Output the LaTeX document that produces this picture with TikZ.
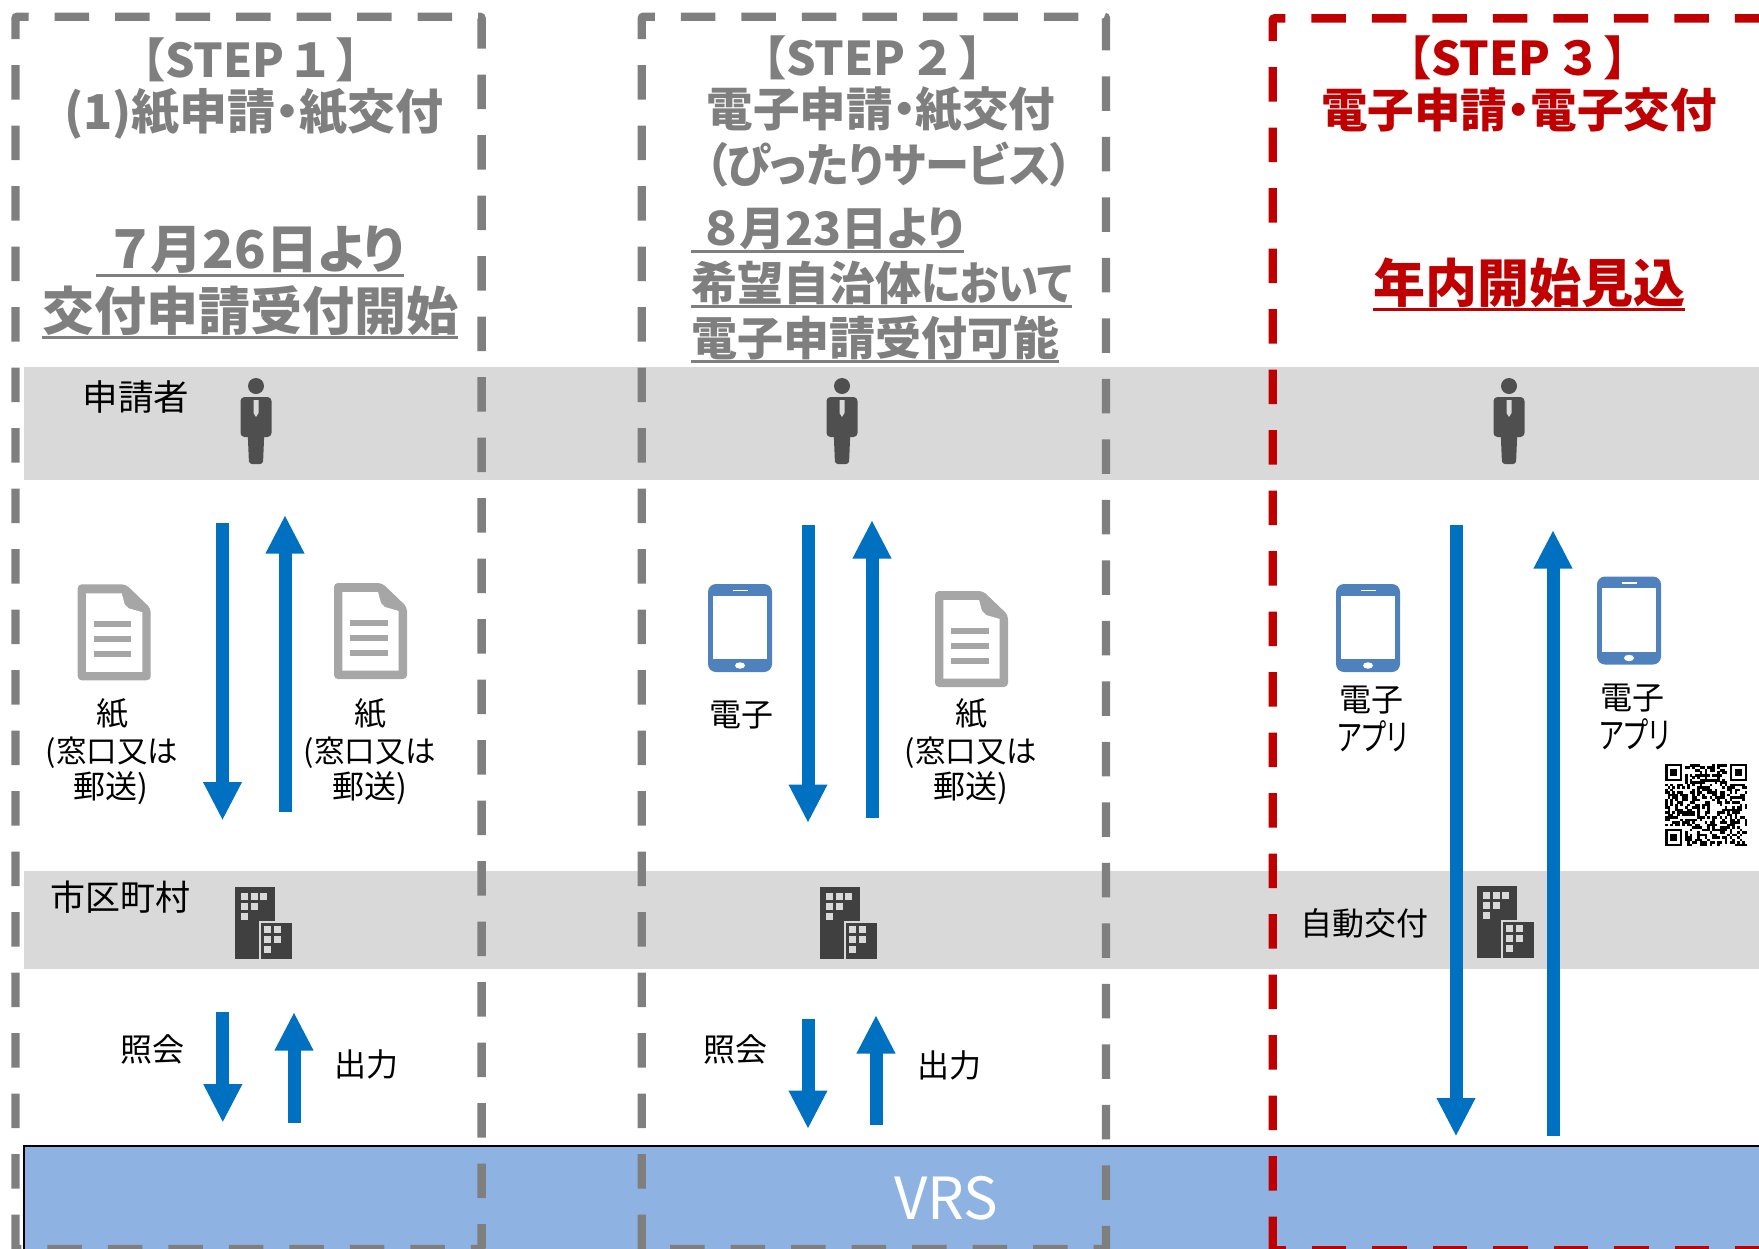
\documentclass[tikz,border=0pt]{standalone}
\usepackage{fontspec}
\setmainfont[RawFeature=+palt]{Noto Sans CJK JP}
\usepackage{xcolor}
\usetikzlibrary{arrows.meta}

\definecolor{dashgray}{HTML}{7F7F7F}
\definecolor{dashred}{HTML}{C00000}
\definecolor{bandgray}{HTML}{D9D9D9}
\definecolor{vrsblue}{HTML}{8EB2E2}
\definecolor{arrowblue}{HTML}{0070C0}
\definecolor{tabletblue}{HTML}{4F81BD}
\definecolor{docgray}{HTML}{A6A6A6}
\definecolor{darkicon}{HTML}{404040}

% underlined text, the rule is as wide as the text
\newcommand{\ulbox}[1]{\setbox0\hbox{#1}\rlap{\rule[-.165em]{\wd0}{2.6pt}}\box0}
\newcommand{\jpsize}[1]{\fontsize{#1}{#1}\selectfont}
% narrow kana
\newcommand{\slim}[2]{\scalebox{#1}[1]{#2}}

\tikzset{
  stepbox/.style={line width=8.4pt, dash pattern=on 34.5pt off 26pt, rounded corners=2pt},
  band/.style={fill=bandgray},
  flow/.style={line width=13pt, arrowblue, -{Triangle[width=36pt,length=38.5pt]}},
  grayhead/.style={anchor=base, text=dashgray, font=\bfseries\jpsize{46.5}, inner sep=0},
  redhead/.style={anchor=base, text=dashred, font=\bfseries\jpsize{46.5}, inner sep=0},
  graydate/.style={anchor=base, text=dashgray, font=\bfseries\jpsize{52}, inner sep=0},
  label/.style={anchor=base, font=\jpsize{32}, inner sep=0},
  person/.pic={
    \fill [darkicon!92!white] (0,8) circle (8);
    \fill [darkicon!92!white, rounded corners=4pt] (-15.5,19) rectangle (15.5,59);
    \fill [darkicon!92!white, rounded corners=3pt] (-8.5,50) -- (8.5,50) -- (7,86) -- (-7,86) -- cycle;
    \fill [bandgray] (-2.5,22) -- (2.5,22) -- (2.5,35) -- (0,39) -- (-2.5,35) -- cycle;
  },
  building/.pic={
    \fill [darkicon] (0,0) rectangle (39.5,72);
    \fill [darkicon, draw=bandgray, line width=2pt] (25,34.5) rectangle (57.5,73);
    \foreach \wx/\wy in {6/6,15.7/6,25/6,6/16,15.7/16,6/26}
      \fill [bandgray] (\wx,\wy) rectangle +(7.2,7.2);
    \foreach \wx/\wy in {29/39,38.5/39,29/49,38.5/49,29/59}
      \fill [bandgray] (\wx,\wy) rectangle +(7.2,7.2);
  },
  tablet/.pic={
    \fill [tabletblue, rounded corners=8pt] (0,0) rectangle (64,88);
    \fill [white] (5.3,11.5) rectangle (59,75);
    \fill [white] (24.5,5.5) rectangle (39.5,7.3);
    \fill [white] (32,81.5) ellipse (5 and 3.2);
  },
  paperdoc/.pic={
    \fill [docgray, rounded corners=4pt] (0,0) -- (48,0) -- (73,24) -- (73,96) -- (0,96) -- cycle;
    \fill [white] (8.3,9) -- (44,9) -- (47,20) -- (51,24) -- (64.7,28) -- (64.7,87.5) -- (8.3,87.5) -- cycle;
    \foreach \ly in {36.7,51.7,66.7}
      \fill [docgray] (16.3,\ly) rectangle (53.7,\ly+6.3);
  }
}

\begin{document}
\begin{tikzpicture}[x=1pt, y=-1pt]
  \useasboundingbox (0,0) rectangle (1759,1248);
  \clip (0,0) rectangle (1759,1248);

  % rows
  \fill [band] (24,367) rectangle (1759,480);
  \fill [band] (24,871) rectangle (1759,969);
  \draw [fill=vrsblue, line width=2pt] (24,1146) rectangle (1790,1290);
  \node [anchor=base, white, font=\jpsize{58}, inner sep=0] (vrs) at (946,1219) {VRS};

  % dashed frames
  \draw [stepbox, dashgray] (15.5,1249) -- (15.5,16.7) -- (481.6,16.7) -- (481.6,1249) -- (15.5,1249);
  \draw [stepbox, dashgray] (641.7,1249) -- (641.7,16.7) -- (1106,16.7) -- (1106,1249) -- (641.7,1249);
  \draw [stepbox, dashred] (1272.7,1251) -- (1272.7,18.3) -- (1800,18.3);
  \draw [stepbox, dashred] (1769.5,1250.3) -- (1272.7,1250.3);

  % step 1 titles
  \node [grayhead] (head1) at (251,77) {【STEP\kern.18em １\kern.18em 】};
  \node [grayhead, font=\bfseries\jpsize{48}] (sub1) at (254,129) {(1)紙申請・紙交付};
  \node [graydate] (date1a) at (250,268) {\ulbox{\kern.3em ７月26日より}};
  \node [graydate] (date1b) at (250,330) {\ulbox{交付申請受付開始}};

  % step 2 titles
  \node [grayhead] (head2) at (873,75) {【STEP\kern.2em ２\kern.2em 】};
  \node [grayhead] (sub2a) at (881,126) {電子申請・紙交付};
  \node [grayhead] (sub2b) at (889,182) {\slim{.95}{（ぴったりサービス）}};
  \begin{scope}[every node/.style={anchor=base west, text=dashgray, font=\bfseries\jpsize{46}, inner sep=0}]
    \node (date2a) at (691,245) {\ulbox{\kern.28em ８月23日より}};
    \node (date2b) at (691,300) {\ulbox{希望自治体\slim{.87}{において}}};
    \node (date2c) at (691,355) {\ulbox{電子申請受付可能}};
  \end{scope}

  % step 3 titles
  \node [redhead] (head3) at (1518,75) {【STEP\kern.2em ３\kern.2em 】};
  \node [redhead] (sub3) at (1519,127) {電子申請・電子交付};
  \node [graydate, text=dashred] (date3) at (1529,302) {\ulbox{年内開始見込}};

  % row labels
  \node [label, font=\jpsize{35.5}] (applicant) at (136,410.5) {申請者};
  \node [label, font=\jpsize{35}] (city) at (120.5,910.5) {市区町村};
  \node [label] (auto) at (1364,935) {自動交付};

  % icons
  \foreach \px in {256,842,1509}
    \pic at (\px,378) {person};
  \foreach \bx/\by in {235/887,820/887,1477/886}
    \pic at (\bx,\by) {building};
  \pic at (77.7,584.3) {paperdoc};
  \pic at (334,583) {paperdoc};
  \pic at (935,591) {paperdoc};
  \pic at (708,584) {tablet};
  \pic at (1336,584) {tablet};
  \pic at (1597,576.5) {tablet};

  % media labels
  \node [label] (paper1a) at (112,725) {紙};
  \node [label, font=\jpsize{30.5}] (paper1b) at (112,762) {(窓口又は};
  \node [label] (paper1c) at (111,798) {郵送)};
  \node [label] (paper2a) at (370,725) {紙};
  \node [label, font=\jpsize{30.5}] (paper2b) at (370,762) {(窓口又は};
  \node [label] (paper2c) at (370,798) {郵送)};
  \node [label] (elec2) at (741.5,726) {電子};
  \node [label] (paper3a) at (971,725) {紙};
  \node [label, font=\jpsize{30.5}] (paper3b) at (971,762) {(窓口又は};
  \node [label] (paper3c) at (971,798) {郵送)};
  \node [label] (elec3a) at (1371,711) {電子};
  \node [label, font=\jpsize{36}] (app3a) at (1372.5,750) {\slim{.73}{アプリ}};
  \node [label] (elec3b) at (1632,709) {電子};
  \node [label, font=\jpsize{36}] (app3b) at (1635,748) {\slim{.73}{アプリ}};
  \node [label] (query1) at (152,1061) {照会};
  \node [label] (output1) at (366,1076) {出力};
  \node [label] (query2) at (735,1061) {照会};
  \node [label] (output2) at (949,1077) {出力};

  % arrow ends
  \coordinate (a1) at (222.5,523);
  \coordinate (a2) at (222.5,820.5);
  \coordinate (b1) at (285,812);
  \coordinate (b2) at (285,515);
  \coordinate (c1) at (808,525);
  \coordinate (c2) at (808,823);
  \coordinate (d1) at (872,817.5);
  \coordinate (d2) at (872,520);
  \coordinate (e1) at (1456,525);
  \coordinate (e2) at (1456,1136.5);
  \coordinate (f1) at (1553,1135.5);
  \coordinate (f2) at (1553,530);
  \coordinate (g1) at (222.8,1012);
  \coordinate (g2) at (222.8,1122.7);
  \coordinate (h1) at (294,1122.7);
  \coordinate (h2) at (294,1012);
  \coordinate (i1) at (808,1019);
  \coordinate (i2) at (808,1129);
  \coordinate (j1) at (876,1125);
  \coordinate (j2) at (876,1015);
  \foreach \from/\to in {a1/a2,b1/b2,c1/c2,d1/d2,e1/e2,f1/f2,g1/g2,h1/h2,i1/i2,j1/j2}
    \draw [flow] (\from) -- (\to);

  % code square
  \pgfmathsetseed{41}
  \foreach \i in {0,...,32}
    \foreach \j in {0,...,32} {
      \pgfmathparse{int(rnd<0.5 && !((\i<8 && \j<8) || (\i>24 && \j<8) || (\i<8 && \j>24)))}
      \ifnum\pgfmathresult=1
        \fill ({1665+\i*2.485},{764+\j*2.485}) rectangle +(2.6,2.6);
      \fi
    }
  \foreach \qx/\qy in {1665/764,1729.6/764,1665/828.6} {
    \draw [line width=2.485pt] (\qx+1.24,\qy+1.24) rectangle (\qx+16.15,\qy+16.15);
    \fill (\qx+4.97,\qy+4.97) rectangle +(7.45,7.45);
  }
\end{tikzpicture}
\end{document}
